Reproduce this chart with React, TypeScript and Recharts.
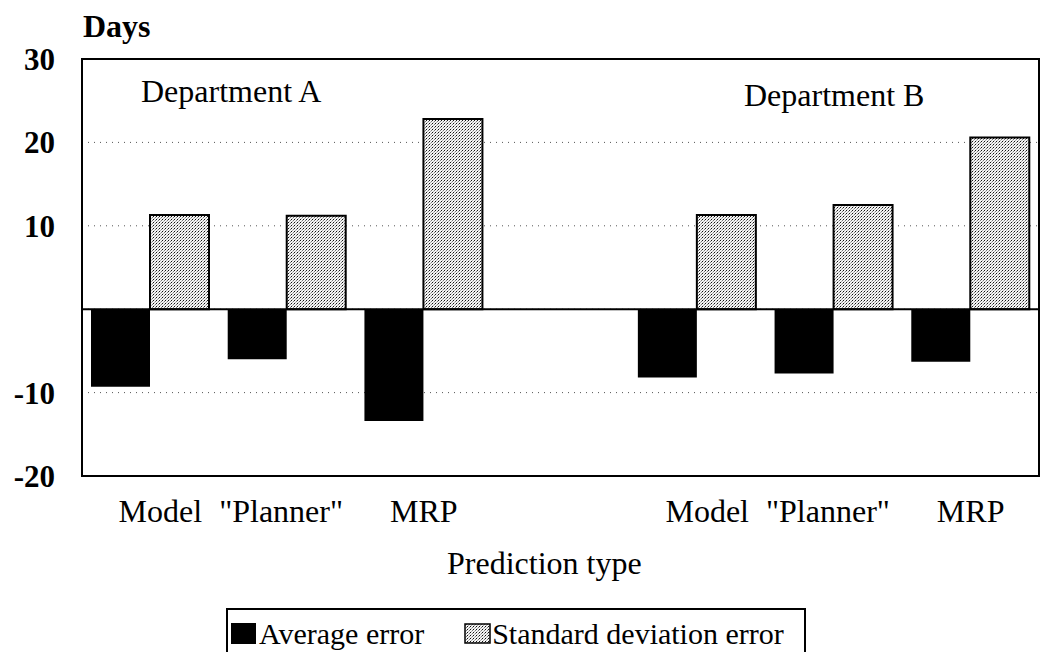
import React from "react";
import {
  Bar,
  BarChart,
  CartesianGrid,
  Legend,
  ReferenceArea,
  ReferenceLine,
  XAxis,
  YAxis,
} from "recharts";

const categories = ["Model", '"Planner"', "MRP", "", "Model", '"Planner"', "MRP"];
const averageError = [-9.3, -6.0, -13.4, null, -8.2, -7.7, -6.3];
const stdDevError = [11.3, 11.2, 22.8, null, 11.3, 12.5, 20.6];
const yTicks = [-20, -10, 0, 10, 20, 30];

const data = categories.map((label, i) => ({
  id: `c${i}`,
  label,
  avg: averageError[i],
  sd: stdDevError[i],
}));

const FONT = '"Liberation Serif", "Times New Roman", serif';
const W = 1041;
const H = 652;

// nudges so the label pairs sit like in the scan
const tickShift: Record<string, number> = { Model: 10, '"Planner"': -6 };

function XTick(props: any) {
  const { x, y, payload } = props;
  const idx = data.findIndex((d) => d.id === payload.value);
  const label = idx >= 0 ? data[idx].label : "";
  return (
    <text
      x={x + (tickShift[label] ?? 0)}
      y={y}
      dy="0.71em"
      textAnchor="middle"
      fontFamily={FONT}
      fontSize={32}
      fill="#000"
    >
      {label}
    </text>
  );
}

function Swatch({ kind }: { kind: "avg" | "sd" }) {
  return (
    <svg width={27} height={22} style={{ display: "block", flexShrink: 0 }}>
      {kind === "avg" ? (
        <rect x={0} y={0} width={25} height={21} fill="#000" />
      ) : (
        <rect x={1} y={1} width={25} height={19} fill="url(#stipple)" stroke="#000" strokeWidth={1.5} />
      )}
    </svg>
  );
}

function LegendBox() {
  const item = { display: "flex", alignItems: "center", gap: 1, flexShrink: 0, whiteSpace: "nowrap" } as const;
  return (
    <div
      style={{
        boxSizing: "border-box",
        width: 580,
        height: 70,
        borderTop: "2px solid #000",
        borderLeft: "2px solid #000",
        borderRight: "2px solid #000",
        display: "flex",
        alignItems: "flex-start",
        paddingTop: 9,
        paddingLeft: 3,
        gap: 40,
        fontFamily: FONT,
        fontSize: 30,
        lineHeight: "30px",
        color: "#000",
      }}
    >
      <div style={item}>
        <Swatch kind="avg" />
        <span>Average error</span>
      </div>
      <div style={item}>
        <Swatch kind="sd" />
        <span>Standard deviation error</span>
      </div>
    </div>
  );
}

const textStyle = {
  position: "absolute",
  fontFamily: FONT,
  fontSize: 32,
  lineHeight: "32px",
  color: "#000",
  whiteSpace: "nowrap",
} as const;

export default function App() {
  return (
    <div
      style={{
        position: "absolute",
        left: 0,
        top: 0,
        width: W,
        height: H,
        overflow: "hidden",
        background: "#fff",
      }}
    >
      <svg width={0} height={0} style={{ position: "absolute" }}>
        <defs>
          <pattern id="stipple" width={3} height={3} patternUnits="userSpaceOnUse">
            <rect width={3} height={3} fill="#f4f4f4" />
            <rect x={0} y={0} width={1} height={1} fill="#111" />
            <rect x={2} y={1} width={1} height={1} fill="#777" />
            <rect x={1} y={2} width={1} height={1} fill="#aaa" />
          </pattern>
        </defs>
      </svg>
      <BarChart
        width={W}
        height={H}
        data={data}
        margin={{ top: 59, right: 2, bottom: 116, left: 0 }}
        barCategoryGap={9}
        barGap={0}
      >
        <CartesianGrid vertical={false} stroke="#555" strokeDasharray="1 5" />
        <XAxis
          dataKey="id"
          axisLine={false}
          tickLine={false}
          tickSize={0}
          tickMargin={23}
          height={60}
          interval={0}
          tick={<XTick />}
        />
        <YAxis
          domain={[-20, 30]}
          ticks={yTicks}
          width={82}
          axisLine={false}
          tickLine={false}
          tickSize={0}
          tickMargin={27}
          tickFormatter={(v: number) => (v === 0 ? "" : String(v))}
          tick={{ fontFamily: FONT, fontSize: 31, fontWeight: "bold", fill: "#000" }}
        />
        <Bar dataKey="avg" name="Average error" fill="#000" isAnimationActive={false} />
        <Bar
          dataKey="sd"
          name="Standard deviation error"
          fill="url(#stipple)"
          stroke="#000"
          strokeWidth={2}
          isAnimationActive={false}
        />
        <ReferenceLine y={0} stroke="#000" strokeWidth={2} />
        <ReferenceArea y1={-20} y2={30} fill="none" stroke="#000" strokeWidth={2} ifOverflow="visible" />
        <Legend
          layout="horizontal"
          align="center"
          verticalAlign="middle"
          content={() => <LegendBox />}
          wrapperStyle={{ position: "absolute", left: 226, top: 608, width: 580, height: 70 }}
        />
      </BarChart>
      <div style={{ ...textStyle, left: 83, top: 10, fontWeight: "bold" }}>Days</div>
      <div style={{ ...textStyle, left: 141, top: 75 }}>Department A</div>
      <div style={{ ...textStyle, left: 744, top: 79 }}>Department B</div>
      <div style={{ ...textStyle, left: 447, top: 547 }}>Prediction type</div>
    </div>
  );
}
